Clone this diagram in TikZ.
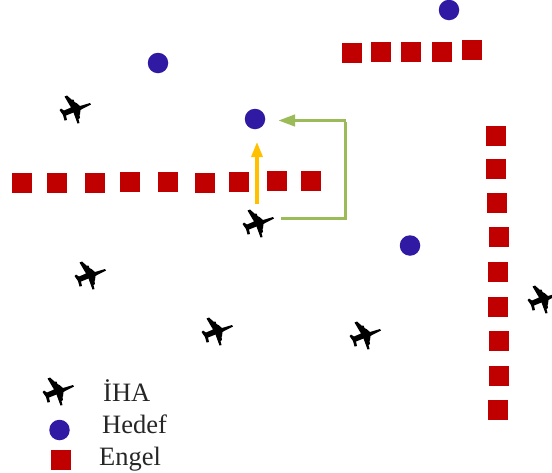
\documentclass[tikz,border=0pt]{standalone}
\usepackage{fontspec}
\setmainfont{Liberation Serif}
\usetikzlibrary{arrows.meta}
\definecolor{obst}{HTML}{C00000}
\definecolor{targ}{HTML}{3019A3}
\definecolor{pathg}{HTML}{9BBB59}
\definecolor{pathy}{HTML}{FFC000}
\tikzset{
  x=1pt,y=-1pt,
  obstacle/.style={fill=obst,draw=none,minimum size=20pt,inner sep=0pt,shape=rectangle},
  target/.style={fill=targ,draw=none,minimum size=20.5pt,inner sep=0pt,shape=circle},
  planebox/.style={draw=none,minimum size=40pt,inner sep=0pt,shape=rectangle},
  legendtext/.style={font=\fontsize{26.5}{26.5}\selectfont,text=black!85,inner sep=0pt},
  greenline/.style={draw=pathg,line width=3.8pt},
  yellowline/.style={draw=pathy,line width=3.2pt}
}
\newcommand{\planeat}[2]{%
  \node[planebox] (#1) at (#2) {};
  \fill[black,shift={(#1.center)},line join=round]
    (16,-5.5) -- (8,-1.5) -- (5.5,0) -- (5,4) -- (4.5,5) -- (5,8) -- (3.5,9) -- (4.5,13) -- (2.5,13.5)
    -- (-1.5,2.5) -- (-9,5.5) -- (-8,10) -- (-10.5,10.5) -- (-12,5) -- (-15.5,0) -- (-14,-1.5) -- (-11,0.5) -- (-4,-2.5)
    -- (-10.5,-13.5) -- (-8,-14.5) -- (-3.5,-10.5) -- (-1.5,-10.5) -- (-0.5,-8) -- (1.5,-7) -- (5,-4) -- (15,-7) -- cycle;
}
\begin{document}
\begin{tikzpicture}
\useasboundingbox (0,0) rectangle (552,472);
% obstacles
\foreach \n/\p in {a1/{21.5,182.5},a2/{57,182.5},a3/{94.5,182.5},a4/{130,182},a5/{167.5,182},a6/{205,183},a7/{239,182},a8/{277,181},a9/{311,181},
  b1/{352,53},b2/{381,52},b3/{411,52},b4/{442,52},b5/{472,50},
  c1/{496,136},c2/{496,169},c3/{497,203},c4/{499,237},c5/{498,272},c6/{498,307},c7/{499,341},c8/{499,376},c9/{498,410},
  lo/{61,459.5}}
  \node[obstacle] (\n) at (\p) {};
% targets
\foreach \n/\p in {t1/{449,10},t2/{158,63},t3/{255,119},t4/{410,245.5},lt/{59.5,430}}
  \node[target] (\n) at (\p) {};
% aircraft
\planeat{u1}{75,110}
\planeat{u2}{258,224}
\planeat{u3}{90,276}
\planeat{u4}{217,332}
\planeat{u5}{365,336}
\planeat{u6}{543,300}
\planeat{lu}{58,392}
% connectors
\coordinate (y0) at (257,204);
\coordinate (y1) at (257,142);
\coordinate (g0) at (281,218.5);
\coordinate (g1) at (345.5,218.5);
\coordinate (g2) at (345.5,122);
\coordinate (g3) at (346,120.5);
\coordinate (g4) at (278,120.5);
\draw[yellowline,-{Triangle[length=15pt,width=11pt]}] (y0) -- (y1);
\draw[greenline] (g0) -- (g1) -- (g2);
\draw[greenline,-{Triangle[length=17pt,width=11pt]}] (g3) -- (g4);
% legend
\node[legendtext,anchor=base west] (l1) at (103,401) {İHA};
\node[legendtext,anchor=base west] (l2) at (102,433) {Hedef};
\node[legendtext,anchor=base west] (l3) at (99,465) {Engel};
\end{tikzpicture}
\end{document}
